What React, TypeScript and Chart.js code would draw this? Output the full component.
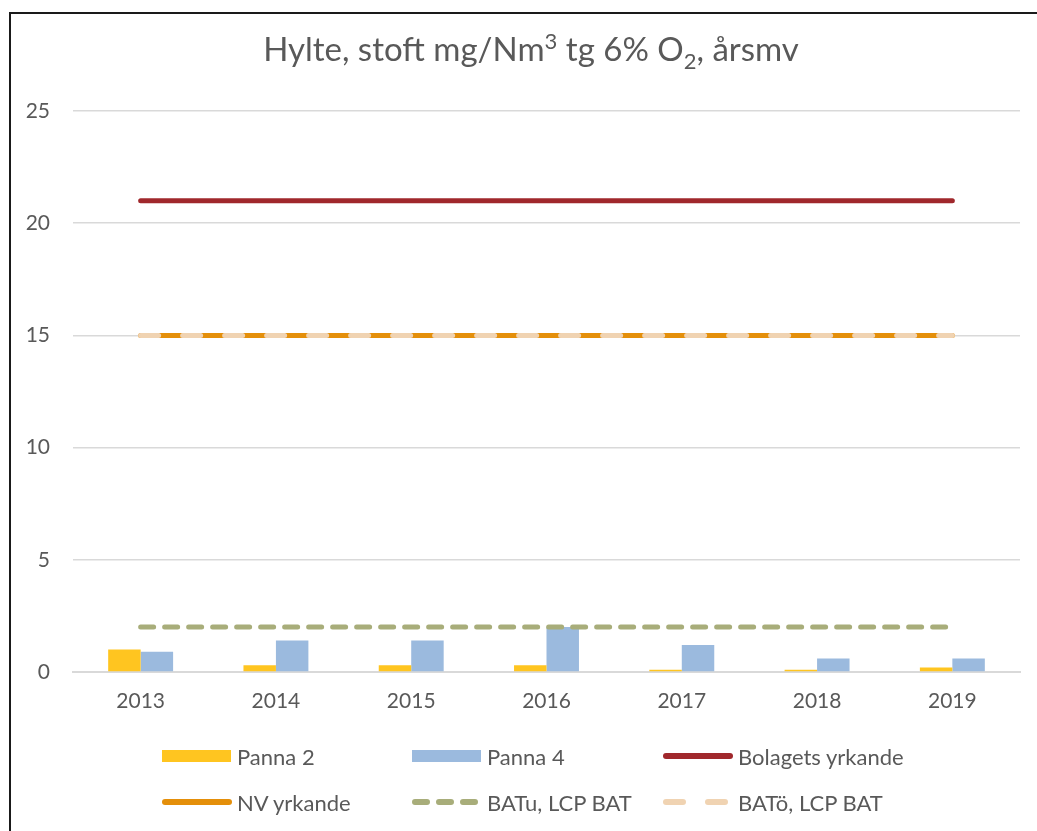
import React, { useEffect, useRef } from "react";
import { Chart, registerables } from "chart.js";

Chart.register(...registerables);

const categories = ["2013", "2014", "2015", "2016", "2017", "2018", "2019"];
const panna2 = [1.0, 0.3, 0.3, 0.3, 0.1, 0.1, 0.2];
const panna4 = [0.9, 1.4, 1.4, 2.0, 1.2, 0.6, 0.6];
const bolagetsYrkande = [21, 21, 21, 21, 21, 21, 21];
const nvYrkande = [15, 15, 15, 15, 15, 15, 15];
const batU = [2, 2, 2, 2, 2, 2, 2];
const batO = [15, 15, 15, 15, 15, 15, 15];
const yTicks = [0, 5, 10, 15, 20, 25];

const FONT = "Lato, 'Open Sans', sans-serif";
const TXT = "#595959";

const C_P2 = "#FFC520";
const C_P4 = "#9BBADE";
const C_BOL = "#A0282C";
const C_NV = "#E48F0A";
const C_BATU = "#A8AD7A";
const C_BATO = "#F0D3B2";

type LegendItem = { label: string; kind: "bar" | "line"; color: string; dash?: string; left: number; top: number };

const legendItems: LegendItem[] = [
  { label: "Panna 2", kind: "bar", color: C_P2, left: 162, top: 756 },
  { label: "Panna 4", kind: "bar", color: C_P4, left: 412, top: 756 },
  { label: "Bolagets yrkande", kind: "line", color: C_BOL, left: 663, top: 756 },
  { label: "NV yrkande", kind: "line", color: C_NV, left: 162, top: 802 },
  { label: "BATu, LCP BAT", kind: "line", color: C_BATU, dash: "12 12", left: 412, top: 802 },
  { label: "BATö, LCP BAT", kind: "line", color: C_BATO, dash: "17 25", left: 663, top: 802 },
];

export default function App() {
  const ref = useRef<HTMLCanvasElement | null>(null);

  useEffect(() => {
    document.body.style.overflow = "hidden";
    const ctx = ref.current!.getContext("2d")!;
    const chart = new Chart(ctx, {
      type: "bar",
      data: {
        labels: categories,
        datasets: [
          {
            type: "line",
            label: "BATö, LCP BAT",
            data: batO,
            borderColor: C_BATO,
            borderWidth: 5,
            borderDash: [18, 24],
            borderCapStyle: "round",
            pointRadius: 0,
            fill: false,
            order: 0,
          } as any,
          {
            type: "line",
            label: "BATu, LCP BAT",
            data: batU,
            borderColor: C_BATU,
            borderWidth: 5,
            borderDash: [13, 11],
            borderCapStyle: "round",
            pointRadius: 0,
            fill: false,
            order: 1,
          } as any,
          {
            type: "line",
            label: "NV yrkande",
            data: nvYrkande,
            borderColor: C_NV,
            borderWidth: 5,
            borderCapStyle: "round",
            pointRadius: 0,
            fill: false,
            order: 2,
          } as any,
          {
            type: "line",
            label: "Bolagets yrkande",
            data: bolagetsYrkande,
            borderColor: C_BOL,
            borderWidth: 5,
            borderCapStyle: "round",
            pointRadius: 0,
            fill: false,
            order: 3,
          } as any,
          {
            type: "bar",
            label: "Panna 2",
            data: panna2,
            backgroundColor: C_P2,
            barPercentage: 1,
            categoryPercentage: 0.48,
            order: 4,
          },
          {
            type: "bar",
            label: "Panna 4",
            data: panna4,
            backgroundColor: C_P4,
            barPercentage: 1,
            categoryPercentage: 0.48,
            order: 5,
          },
        ],
      },
      options: {
        animation: false,
        responsive: false,
        maintainAspectRatio: false,
        layout: { padding: { left: 0, right: 17, top: 111, bottom: 119 } },
        plugins: {
          legend: { display: false },
          title: { display: false },
          tooltip: { enabled: false },
        },
        scales: {
          x: {
            offset: true,
            grid: { display: false, drawTicks: false },
            border: { display: true, color: "#D9D9D9", width: 2 },
            ticks: { color: TXT, font: { family: FONT, size: 21 }, padding: 17 },
            afterFit: (s: any) => {
              s.height = 40;
            },
          },
          y: {
            min: 0,
            max: 25,
            afterBuildTicks: (s: any) => {
              s.ticks = yTicks.map((v) => ({ value: v }));
            },
            grid: { color: "#D9D9D9", lineWidth: 1.5, drawTicks: false },
            border: { display: false },
            ticks: { color: TXT, font: { family: FONT, size: 21 }, padding: 23 },
            afterFit: (s: any) => {
              s.width = 73;
            },
          },
        },
      },
    });
    return () => chart.destroy();
  }, []);

  return (
    <div>
      <div
        style={{
          position: "absolute",
          left: 9,
          top: 12,
          width: 1040,
          height: 830,
          borderTop: "2px solid #1a1a1a",
          borderLeft: "2px solid #1a1a1a",
          boxSizing: "border-box",
        }}
      />
      <canvas
        ref={ref}
        width={1037}
        height={831}
        style={{ position: "absolute", left: 0, top: 0, width: 1037, height: 831 }}
      />
      <div
        style={{
          position: "absolute",
          left: 0,
          width: 1062,
          top: 28,
          textAlign: "center",
          fontFamily: FONT,
          fontSize: 33,
          color: TXT,
          lineHeight: "40px",
          whiteSpace: "nowrap",
        }}
      >
        Hylte, stoft mg/Nm<sup style={{ fontSize: 22, lineHeight: 0 }}>3</sup> tg 6% O
        <sub style={{ fontSize: 22, lineHeight: 0 }}>2</sub>, årsmv
      </div>
      {legendItems.map((it) => (
        <div
          key={it.label}
          style={{
            position: "absolute",
            left: it.left,
            top: it.top - 15,
            height: 30,
            display: "flex",
            alignItems: "center",
            fontFamily: FONT,
            fontSize: 22,
            color: TXT,
            whiteSpace: "nowrap",
          }}
        >
          <svg width={70} height={14} style={{ marginRight: 5, display: "block" }}>
            {it.kind === "bar" ? (
              <rect x={0} y={1} width={69} height={12} fill={it.color} />
            ) : (
              <line
                x1={3}
                x2={67}
                y1={7}
                y2={7}
                stroke={it.color}
                strokeWidth={6}
                strokeLinecap="round"
                strokeDasharray={it.dash}
              />
            )}
          </svg>
          {it.label}
        </div>
      ))}
    </div>
  );
}
